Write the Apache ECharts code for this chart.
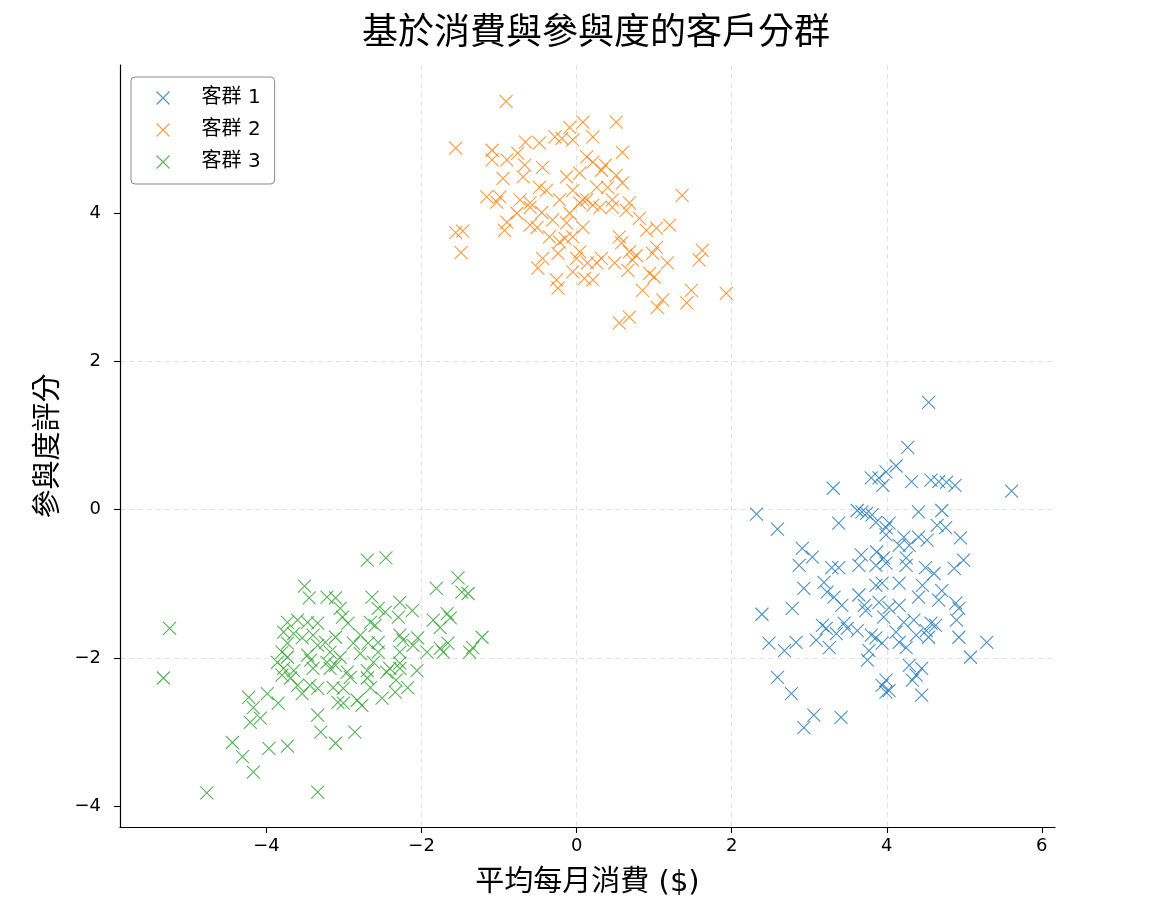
<!DOCTYPE html>
<html lang="zh-Hant">
<head>
<meta charset="UTF-8">
<title>基於消費與參與度的客戶分群</title>
<script src="https://cdn.jsdelivr.net/npm/echarts@6/dist/echarts.min.js"></script>
<style>
    html, body { margin: 0; padding: 0; background: #fff; }
    #chart { width: 1176px; height: 912px; }
</style>
</head>
<body>
<div id="chart"></div>
<script>
    // 客群 1 (藍)
    var group1X = [2.32, 2.59, 3.31, 3.38, 3.80, 3.90, 3.95, 3.99, 3.62, 3.68, 3.74, 3.81, 3.86, 3.99, 3.99, 2.91, 3.04, 3.67, 3.87, 3.96,
        4.54, 4.27, 4.12, 4.32, 4.57, 4.67, 4.77, 4.88, 5.61, 4.41, 4.71, 4.03, 4.65, 4.76, 4.22, 4.41, 4.52, 4.95, 4.16, 4.29,
        4.99, 4.25, 2.87, 3.29, 3.38, 3.64, 3.86, 2.93, 3.19, 3.23, 3.32, 3.42, 3.64, 3.71, 3.73, 3.86, 3.90, 3.96, 2.39, 2.78,
        3.17, 3.22, 3.45, 3.49, 3.62, 3.35, 2.48, 2.68, 2.83, 3.09, 3.26, 3.80, 3.86, 3.94, 3.77, 3.75, 2.59, 2.77, 3.06, 3.41,
        2.93, 3.94, 3.99, 3.99, 4.25, 4.50, 4.61, 4.87, 3.94, 4.16, 4.46, 4.71, 4.41, 4.67, 4.89, 4.93, 4.90, 4.03, 4.16, 4.22,
        4.35, 4.57, 4.63, 4.51, 4.12, 4.38, 4.54, 4.93, 5.29, 4.16, 4.25, 5.08, 4.29, 4.45, 4.38, 4.33, 3.99, 4.03, 4.45];
    var group1Y = [-0.06, -0.26, 0.29, -0.18, 0.43, 0.43, 0.33, 0.51, -0.01, -0.03, -0.05, -0.07, -0.17, -0.24, -0.34, -0.52, -0.64, -0.61, -0.57, -0.65,
        1.45, 0.84, 0.59, 0.38, 0.40, 0.38, 0.37, 0.33, 0.25, -0.03, -0.01, -0.18, -0.21, -0.24, -0.37, -0.37, -0.41, -0.38, -0.48, -0.48,
        -0.68, -0.65, -0.75, -0.78, -0.78, -0.75, -0.75, -1.06, -0.98, -1.11, -1.18, -1.29, -1.15, -1.29, -1.36, -1.02, -1.25, -1.45, -1.41, -1.33,
        -1.56, -1.60, -1.53, -1.60, -1.63, -1.67, -1.80, -1.90, -1.79, -1.76, -1.86, -1.69, -1.73, -1.80, -1.90, -2.03, -2.26, -2.48, -2.77, -2.80,
        -2.94, -2.37, -2.46, -0.72, -0.75, -0.78, -0.86, -0.79, -0.99, -0.99, -1.02, -1.09, -1.18, -1.22, -1.26, -1.33, -1.49, -1.32, -1.29, -1.52,
        -1.49, -1.53, -1.56, -1.63, -1.65, -1.69, -1.72, -1.72, -1.79, -1.79, -1.86, -1.99, -2.10, -2.14, -2.23, -2.30, -2.30, -2.44, -2.50];

    // 客群 2 (橘)
    var group2X = [-0.91, -1.56, -1.09, -1.09, -0.90, -0.66, -0.48, -0.28, -0.19, -0.09, 0.08, -0.05, -0.76, -0.67, -0.44, -0.69, -0.95, -1.16, -0.99, -0.73,
        -0.48, -0.39, -0.13, -0.05, 0.04, 0.13, 0.08, -0.22, -0.60, 0.51, 0.21, 0.59, 0.21, 0.37, 0.32, 0.51, 0.59, 0.26, 0.40, 1.36,
        0.13, 0.46, 0.68, 0.21, -1.03, -0.77, -0.60, -0.90, -0.93, -1.56, -1.47, -1.49, -0.45, -0.31, -0.60, -0.51, -0.35, -0.22, -0.15, -0.05,
        -0.24, -0.44, -0.50, 0.04, 0.00, -0.05, -0.26, -0.24, 0.10, 0.04, -0.09, -0.13, 0.30, 0.46, 0.64, 0.81, 0.90, 1.03, 1.20, 0.55,
        0.58, 0.08, 1.03, 0.98, 0.68, 0.77, 0.72, 0.32, 0.14, 0.26, 0.49, 0.66, 1.17, 1.62, 1.58, 0.94, 1.00, 0.21, 0.85, 1.48,
        1.93, 1.11, 1.04, 1.42, 0.68, 0.55];
    var group2Y = [5.51, 4.88, 4.85, 4.72, 4.72, 4.96, 4.95, 5.03, 5.01, 5.16, 5.23, 4.99, 4.81, 4.65, 4.62, 4.49, 4.47, 4.22, 4.22, 4.18,
        4.35, 4.31, 4.49, 4.31, 4.54, 4.76, 4.18, 4.18, 4.14, 5.23, 5.03, 4.82, 4.69, 4.65, 4.58, 4.51, 4.41, 4.35, 4.35, 4.24,
        4.18, 4.18, 4.14, 4.11, 4.15, 4.00, 4.08, 3.88, 3.77, 3.74, 3.76, 3.47, 4.01, 3.91, 3.84, 3.81, 3.68, 3.61, 3.66, 3.68,
        3.46, 3.39, 3.26, 3.48, 3.39, 3.21, 3.10, 2.99, 3.12, 4.14, 4.00, 3.87, 4.08, 4.08, 4.04, 3.93, 3.77, 3.80, 3.84, 3.68,
        3.60, 3.81, 3.54, 3.46, 3.48, 3.43, 3.37, 3.39, 3.33, 3.33, 3.33, 3.23, 3.33, 3.50, 3.37, 3.19, 3.14, 3.10, 2.96, 2.96,
        2.92, 2.83, 2.73, 2.79, 2.60, 2.52];

    // 客群 3 (綠)
    var group3X = [-5.25, -5.33, -4.77, -3.51, -3.45, -3.73, -3.60, -3.47, -3.34, -3.78, -3.65, -3.54, -3.40, -3.73, -3.80, -3.73, -3.47, -3.43, -3.34, -3.86,
        -3.78, -3.65, -3.40, -2.70, -2.46, -1.53, -1.81, -1.48, -1.40, -3.22, -3.11, -2.64, -2.28, -3.05, -2.56, -2.47, -2.12, -3.02, -2.95, -2.66,
        -2.60, -2.30, -1.85, -1.67, -1.76, -1.63, -1.22, -1.34, -1.38, -1.76, -1.66, -1.72, -3.24, -3.11, -2.88, -2.79, -2.69, -2.56, -2.28, -2.24,
        -2.05, -2.11, -1.93, -3.18, -3.05, -2.79, -2.56, -2.28, -3.22, -3.11, -2.62, -2.28, -2.96, -2.70, -2.45, -4.23, -4.17, -3.99, -3.85, -4.21,
        -4.08, -3.80, -3.69, -3.60, -3.54, -3.44, -3.34, -3.34, -3.30, -4.44, -4.31, -4.17, -3.97, -3.73, -3.34, -3.18, -2.92, -3.14, -3.01, -2.70,
        -2.66, -2.41, -2.28, -2.06, -2.33, -2.18, -2.34, -3.08, -3.01, -2.83, -2.77, -2.51, -2.86, -3.11];
    var group3Y = [-1.60, -2.27, -3.82, -1.03, -1.19, -1.52, -1.49, -1.52, -1.53, -1.65, -1.67, -1.73, -1.69, -1.80, -1.92, -1.99, -1.96, -2.03, -1.83, -2.06,
        -2.14, -2.17, -2.14, -0.68, -0.65, -0.92, -1.06, -1.11, -1.13, -1.18, -1.19, -1.18, -1.25, -1.33, -1.33, -1.38, -1.36, -1.45, -1.53, -1.52,
        -1.56, -1.45, -1.49, -1.40, -1.59, -1.46, -1.72, -1.86, -1.92, -1.87, -1.80, -1.92, -1.79, -1.72, -1.80, -1.69, -1.80, -1.79, -1.69, -1.76,
        -1.73, -1.83, -1.92, -1.92, -1.99, -1.94, -1.92, -1.92, -2.06, -2.10, -2.06, -2.07, -2.19, -2.17, -2.19, -2.53, -2.67, -2.48, -2.61, -2.87,
        -2.81, -2.23, -2.27, -2.37, -2.48, -2.37, -2.41, -2.77, -3.00, -3.14, -3.33, -3.54, -3.22, -3.19, -3.81, -2.14, -2.26, -2.40, -2.41, -2.27,
        -2.40, -2.14, -2.14, -2.17, -2.30, -2.40, -2.46, -2.60, -2.61, -2.57, -2.64, -2.54, -3.00, -3.15];

    var groupNames = ['客群 1', '客群 2', '客群 3'];
    var groupColors = ['#1f77b4', '#ff7f0e', '#2ca02c'];
    var xTicks = [-4, -2, 0, 2, 4, 6];
    var yTicks = [-4, -2, 0, 2, 4];
    var xRange = [-5.89, 6.17];
    var yRange = [-4.28, 6.0];

    var FONT = '"DejaVu Sans", "Noto Sans CJK TC", sans-serif';
    var crossIcon = 'path://M0,0L10,10M10,0L0,10';

    function zip(xs, ys) {
        return xs.map(function (x, i) { return [x, ys[i]]; });
    }

    function tickText(v) {
        return v < 0 ? '\u2212' + Math.abs(v) : String(v);
    }

    var groups = [zip(group1X, group1Y), zip(group2X, group2Y), zip(group3X, group3Y)];

    var axisCommon = {
        type: 'value',
        axisLine: { show: true, onZero: false, lineStyle: { color: '#000', width: 1.2 } },
        axisTick: { show: true, inside: false, length: 6, lineStyle: { color: '#000', width: 1.1 } },
        splitLine: {
            show: true,
            showMinLine: false,
            showMaxLine: false,
            lineStyle: { color: '#e2e2e2', type: [5, 4], width: 1 }
        },
        nameLocation: 'middle',
        nameTextStyle: { fontFamily: FONT, fontSize: 29, color: '#000' }
    };

    var chart = echarts.init(document.getElementById('chart'));

    var option = {
        backgroundColor: '#fff',
        animation: false,
        title: {
            text: '基於消費與參與度的客戶分群',
            left: 591,
            top: 12,
            textAlign: 'center',
            textStyle: { fontFamily: FONT, fontSize: 36, fontWeight: 'normal', color: '#000' }
        },
        legend: {
            orient: 'vertical',
            left: 131,
            top: 77,
            padding: [11, 14, 12, 25],
            itemGap: 12,
            itemWidth: 13,
            itemHeight: 13,
            backgroundColor: '#fff',
            borderColor: '#8a8a8a',
            borderWidth: 1,
            borderRadius: 4,
            itemStyle: { borderWidth: 1.1 },
            textStyle: { fontFamily: FONT, fontSize: 20, color: '#000', padding: [0, 0, 0, 27] },
            data: groupNames
        },
        grid: { left: 120, right: 121, top: 65, bottom: 85, containLabel: false, outerBoundsMode: 'none' },
        xAxis: Object.assign({}, axisCommon, {
            min: xRange[0],
            max: xRange[1],
            name: '平均每月消費 ($)',
            nameGap: 42,
            axisTick: Object.assign({}, axisCommon.axisTick, { customValues: xTicks }),
            axisLabel: {
                customValues: xTicks,
                margin: 10,
                fontFamily: FONT,
                fontSize: 18,
                color: '#000',
                formatter: tickText
            }
        }),
        yAxis: Object.assign({}, axisCommon, {
            min: yRange[0],
            max: yRange[1],
            name: '參與度評分',
            nameGap: 48,
            axisTick: Object.assign({}, axisCommon.axisTick, { customValues: yTicks }),
            axisLabel: {
                customValues: yTicks,
                margin: 19,
                fontFamily: FONT,
                fontSize: 18,
                color: '#000',
                formatter: tickText
            }
        }),
        series: groups.map(function (pts, i) {
            return {
                name: groupNames[i],
                type: 'scatter',
                symbol: crossIcon,
                symbolSize: 13,
                data: pts,
                itemStyle: {
                    color: groupColors[i],
                    borderColor: groupColors[i],
                    borderWidth: 1.1,
                    opacity: 0.8
                },
                emphasis: { disabled: true }
            };
        })
    };

    chart.setOption(option);
</script>
</body>
</html>
